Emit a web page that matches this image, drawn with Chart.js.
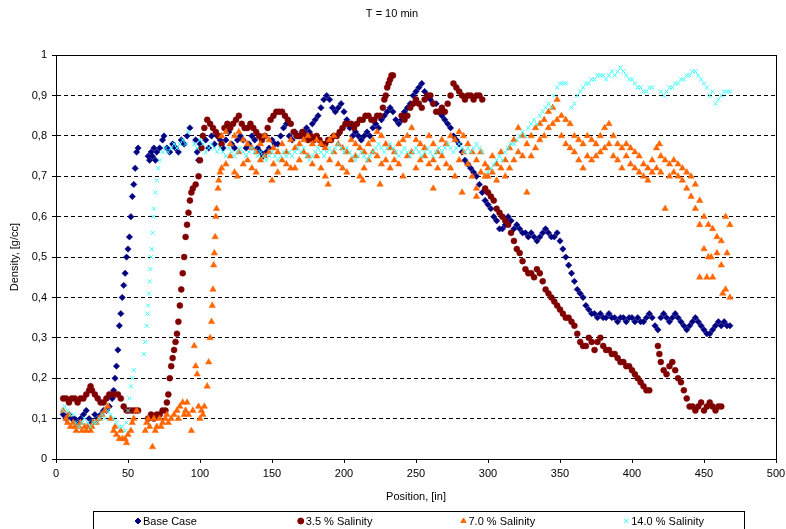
<!DOCTYPE html>
<html>
<head>
<meta charset="utf-8">
<script src="https://cdn.jsdelivr.net/npm/chart.js@4.4.1/dist/chart.umd.min.js"></script>
<style>
  html, body { margin: 0; padding: 0; background: #fff; }
  #wrap { width: 786px; height: 529px; }
</style>
</head>
<body>
<div id="wrap"><canvas id="densityChart" width="786" height="529"></canvas></div>
<script>
// series data: position [in] and density [g/cc]
const seriesNames = ['Base Case', '3.5 % Salinity', '7.0 % Salinity', '14.0 % Salinity'];

const baseX = [5,7,9,11,13,15,17,19,21,23,25,27,29,31,33,35,37,39,40,41,42,43,44,45,46,47,48,49,50,51,52,53,54,55,56,57,
  64,65,66,67,68,69,70,72,74,75,77,79,81,83,85,87,89,91,93,97,98,99,100,102,104,106,108,110,112,114,116,118,120,122,124,126,128,130,
  132,134,136,138,140,142,144,146,148,150,152,154,156,158,160,162,164,166,168,170,172,174,176,178,180,182,184,186,188,190,192,194,196,198,
  200,202,204,206,208,210,212,214,216,218,220,222,224,226,228,230,232,234,236,238,240,242,244,246,248,250,252,254,256,258,260,262,264,266,
  268,270,272,274,276,278,280,282,284,286,288,290,292,294,296,298,300,302,304,306,308,310,312,314,316,318,320,322,324,326,328,330,332,334,
  336,338,340,342,344,346,348,350,352,354,356,358,360,362,364,366,368,370,372,374,376,378,380,382,384,386,388,390,392,394,396,398,400,402,
  404,406,408,410,412,414,416,418,420,422,424,426,428,430,432,434,436,438,440,442,444,446,448,450,452,454,456,458,460,462,464,466,468];
const baseY = [0.11,0.10,0.11,0.10,0.10,0.09,0.10,0.11,0.12,0.10,0.09,0.11,0.10,0.11,0.12,0.12,0.13,0.15,0.17,0.20,0.23,0.27,0.33,0.36,0.40,0.43,0.46,0.50,0.52,0.55,0.60,0.65,0.68,0.72,0.76,0.77,
  0.75,0.74,0.76,0.75,0.77,0.74,0.76,0.77,0.79,0.80,0.77,0.76,0.78,0.77,0.76,0.79,0.78,0.80,0.82,0.79,0.76,0.74,0.78,0.80,0.79,0.77,0.80,0.78,0.80,0.79,0.77,0.79,0.81,0.78,0.77,0.79,0.80,0.79,
  0.77,0.78,0.80,0.79,0.77,0.76,0.75,0.76,0.77,0.79,0.78,0.78,0.80,0.82,0.83,0.80,0.79,0.81,0.80,0.80,0.81,0.82,0.81,0.83,0.84,0.85,0.87,0.89,0.90,0.89,0.87,0.86,0.87,0.88,
  0.86,0.84,0.82,0.80,0.81,0.80,0.79,0.80,0.81,0.80,0.82,0.83,0.82,0.84,0.85,0.86,0.87,0.86,0.84,0.83,0.84,0.86,0.87,0.88,0.90,0.91,0.92,0.93,0.91,0.90,0.89,0.88,0.88,0.86,
  0.85,0.84,0.83,0.82,0.80,0.79,0.78,0.76,0.74,0.73,0.72,0.71,0.70,0.68,0.66,0.64,0.63,0.62,0.60,0.59,0.57,0.57,0.58,0.60,0.59,0.57,0.58,0.57,0.56,0.56,0.55,0.56,0.55,0.54,
  0.55,0.56,0.57,0.56,0.55,0.55,0.56,0.54,0.52,0.50,0.48,0.46,0.44,0.42,0.41,0.40,0.38,0.37,0.36,0.36,0.35,0.36,0.35,0.35,0.36,0.35,0.35,0.34,0.35,0.35,0.34,0.35,0.35,0.34,
  0.35,0.34,0.34,0.35,0.36,0.35,0.33,0.32,0.35,0.36,0.35,0.34,0.35,0.36,0.35,0.34,0.33,0.32,0.33,0.34,0.35,0.34,0.33,0.32,0.31,0.31,0.32,0.33,0.34,0.33,0.34,0.33,0.33];

const sal35X = [5,7,9,11,13,15,17,19,21,23,24,25,27,29,31,33,35,37,39,41,43,45,47,49,51,53,55,57,
  64,66,68,70,72,74,76,77,78,79,80,81,82,83,84,85,86,87,88,89,90,91,92,93,94,95,97,99,100,101,102,103,105,107,109,111,113,115,117,119,121,123,125,127,129,131,
  133,135,137,139,141,143,145,147,149,151,153,155,157,159,161,163,165,167,169,171,173,175,177,179,181,183,185,187,189,191,193,195,197,199,201,203,205,207,209,211,
  213,215,217,219,221,223,225,227,228,229,230,231,232,233,234,240,242,244,246,248,250,252,254,256,258,260,262,264,266,268,270,272,274,276,278,280,282,284,286,288,290,292,294,296,
  298,300,302,304,306,308,310,312,314,316,318,320,322,324,326,328,330,332,334,336,338,340,342,344,346,348,350,352,354,356,358,360,362,364,366,368,370,372,374,376,378,380,
  382,384,386,388,390,392,394,396,398,400,402,404,406,408,410,412,
  418,419,420,422,424,426,428,430,432,434,436,438,440,442,444,446,448,450,452,454,456,458,460,462];
const sal35Y = [0.15,0.15,0.14,0.15,0.15,0.14,0.15,0.15,0.16,0.17,0.18,0.17,0.16,0.15,0.14,0.14,0.15,0.16,0.16,0.16,0.16,0.15,0.13,0.12,0.12,0.12,0.12,0.12,
  0.10,0.11,0.10,0.11,0.11,0.12,0.12,0.14,0.16,0.20,0.23,0.25,0.27,0.29,0.31,0.34,0.38,0.42,0.46,0.50,0.55,0.58,0.61,0.64,0.66,0.67,0.68,0.70,0.74,0.77,0.80,0.82,0.84,0.83,0.82,0.81,0.80,0.78,0.82,0.83,0.82,0.83,0.84,0.85,0.83,0.82,
  0.82,0.83,0.82,0.81,0.80,0.79,0.80,0.82,0.84,0.85,0.86,0.86,0.86,0.85,0.84,0.83,0.81,0.80,0.80,0.81,0.80,0.79,0.80,0.79,0.80,0.79,0.78,0.78,0.79,0.79,0.80,0.80,0.81,0.82,0.83,0.83,0.83,0.82,0.83,0.84,
  0.84,0.85,0.85,0.84,0.84,0.85,0.85,0.87,0.89,0.90,0.92,0.93,0.94,0.95,0.95,0.85,0.84,0.85,0.87,0.88,0.89,0.88,0.87,0.89,0.90,0.90,0.88,0.86,0.86,0.87,0.86,0.88,0.90,0.93,0.92,0.91,0.90,0.89,0.90,0.90,0.89,0.90,0.90,0.89,
  0.67,0.66,0.65,0.64,0.62,0.61,0.60,0.59,0.58,0.56,0.54,0.52,0.51,0.49,0.47,0.46,0.46,0.45,0.47,0.46,0.44,0.42,0.41,0.40,0.39,0.38,0.37,0.36,0.35,0.35,0.34,0.33,0.31,0.29,0.28,0.28,0.30,0.29,0.27,0.29,0.30,0.28,
  0.27,0.27,0.26,0.26,0.25,0.24,0.24,0.23,0.23,0.22,0.21,0.20,0.19,0.18,0.17,0.17,
  0.28,0.26,0.24,0.22,0.21,0.23,0.24,0.22,0.20,0.19,0.17,0.15,0.13,0.13,0.12,0.13,0.14,0.12,0.13,0.14,0.13,0.12,0.13,0.13];

const sal70X = [5,7,8,9,10,12,13,14,16,17,18,20,21,22,24,25,26,28,30,32,34,36,38,40,41,42,44,45,46,48,49,50,52,53,54,56,
  62,63,64,65,67,68,69,70,72,73,74,76,77,78,80,82,84,85,86,88,89,90,91,92,94,95,96,97,98,99,100,101,102,103,105,106,107,108,108.5,109,109.5,110,110.5,111,111.5,112.5,113,114,
  115,115,118,118,121,121,124,124,127,127,130,130,133,133,136,136,139,139,142,142,145,145,148,148,151,151,154,154,157,157,160,160,163,163,166,166,169,169,172,172,
  175,175,178,178,181,181,184,184,187,187,190,190,193,193,196,196,199,199,202,202,205,205,208,208,211,211,214,214,217,217,220,220,223,223,226,226,229,229,232,232,
  235,235,238,238,241,241,244,244,247,247,250,250,253,253,256,256,259,259,262,262,265,265,268,268,271,271,274,274,277,277,280,280,283,283,286,286,289,289,292,292,295,295,298,298,
  126,150,189,213,225,262,282,292,
  300,300,303,303,306,306,309,309,312,312,315,315,318,318,321,321,324,324,327,327,330,330,333,333,336,336,339,339,342,342,345,345,348,348,351,351,354,354,357,357,
  360,360,363,363,366,366,369,369,372,372,375,375,378,378,381,381,384,384,387,387,390,390,393,393,396,396,399,399,402,402,405,405,408,408,411,411,414,414,417,417,
  420,420,423,423,426,426,429,429,432,432,435,435,438,438,441,441,444,444,447,447,450,450,453,453,456,456,459,459,462,462,465,465,468,468,
  419,447,452,455,463,466];
const sal70Y = [0.12,0.10,0.09,0.11,0.08,0.09,0.08,0.07,0.08,0.09,0.07,0.08,0.07,0.08,0.07,0.08,0.09,0.09,0.10,0.11,0.12,0.13,0.10,0.07,0.08,0.06,0.05,0.07,0.05,0.05,0.04,0.06,0.07,0.09,0.10,0.12,
  0.07,0.09,0.10,0.08,0.03,0.10,0.07,0.08,0.10,0.08,0.09,0.10,0.11,0.09,0.10,0.11,0.12,0.10,0.13,0.14,0.11,0.12,0.14,0.11,0.07,0.12,0.28,0.23,0.21,0.13,0.10,0.12,0.11,0.13,0.18,0.24,0.30,0.34,0.38,0.42,0.48,0.51,0.55,0.60,0.62,0.67,0.69,0.71,
  0.80,0.72,0.81,0.73,0.78,0.75,0.80,0.71,0.81,0.76,0.79,0.73,0.78,0.74,0.77,0.72,0.76,0.71,0.78,0.74,0.80,0.75,0.79,0.76,0.77,0.73,0.76,0.71,0.78,0.74,0.76,0.73,0.79,0.72,0.77,0.72,0.78,0.74,0.79,0.76,
  0.80,0.75,0.78,0.73,0.79,0.75,0.78,0.72,0.77,0.70,0.79,0.74,0.80,0.76,0.78,0.73,0.77,0.72,0.76,0.71,0.79,0.74,0.78,0.75,0.77,0.70,0.76,0.72,0.78,0.74,0.79,0.76,0.81,0.75,0.80,0.73,0.78,0.74,0.77,0.72,
  0.76,0.74,0.78,0.73,0.79,0.70,0.80,0.75,0.82,0.76,0.79,0.72,0.78,0.74,0.77,0.75,0.80,0.73,0.78,0.74,0.76,0.72,0.79,0.75,0.78,0.73,0.80,0.72,0.79,0.70,0.81,0.74,0.80,0.76,0.78,0.73,0.76,0.70,0.74,0.67,0.76,0.71,0.73,0.70,
  0.70,0.69,0.68,0.69,0.68,0.67,0.66,0.65,
  0.72,0.70,0.75,0.71,0.73,0.69,0.76,0.72,0.74,0.70,0.77,0.72,0.79,0.74,0.82,0.76,0.80,0.75,0.78,0.66,0.80,0.75,0.82,0.77,0.83,0.79,0.84,0.80,0.86,0.82,0.87,0.83,0.89,0.84,0.85,0.80,0.84,0.78,0.83,0.77,
  0.80,0.76,0.79,0.74,0.78,0.72,0.80,0.75,0.79,0.74,0.78,0.75,0.80,0.76,0.82,0.77,0.83,0.78,0.80,0.75,0.78,0.74,0.77,0.72,0.78,0.75,0.77,0.73,0.76,0.72,0.75,0.71,0.73,0.70,0.72,0.69,0.74,0.71,0.77,0.72,
  0.75,0.71,0.74,0.62,0.73,0.70,0.74,0.71,0.73,0.70,0.72,0.69,0.71,0.67,0.70,0.65,0.68,0.62,0.64,0.58,0.60,0.52,0.58,0.50,0.57,0.45,0.55,0.51,0.54,0.48,0.60,0.42,0.58,0.40,
  0.78,0.45,0.45,0.50,0.41,0.51];

const sal140X = [5,6,8,10,12,14,16,18,20,22,24,26,28,30,32,34,36,38,40,42,44,46,48,49,50,51,52,53,54,
  61,62,63,63.5,64,64.5,65,65.5,66,66.5,67,67.5,68,69,70,71,72,74,76,78,80,82,84,86,88,90,92,
  96,98,100,102,104,106,108,110,112,114,116,118,120,122,124,126,128,130,132,134,136,138,140,142,144,146,148,150,152,154,156,158,160,162,164,166,168,170,172,174,176,178,
  180,182,184,186,188,190,192,194,196,198,200,202,204,206,208,210,212,214,216,218,220,222,224,226,228,230,232,234,236,238,240,242,244,246,248,250,252,254,256,258,260,262,
  264,266,268,270,272,274,276,278,280,282,284,286,288,290,292,294,296,
  300,302,304,306,308,310,312,314,316,318,320,322,324,326,328,330,332,334,336,338,340,342,344,346,348,350,352,354,
  358,360,362,364,366,368,370,372,374,376,378,380,382,384,386,388,390,392,394,396,398,400,402,404,406,408,410,412,414,
  420,422,424,426,428,430,432,434,436,438,440,442,444,446,448,450,452,454,456,458,460,462,464,466,468];
const sal140Y = [0.12,0.13,0.12,0.11,0.11,0.09,0.08,0.09,0.10,0.09,0.08,0.09,0.09,0.10,0.11,0.10,0.12,0.11,0.10,0.09,0.08,0.08,0.07,0.09,0.12,0.15,0.18,0.20,0.22,
  0.26,0.29,0.33,0.36,0.38,0.41,0.44,0.47,0.50,0.52,0.56,0.60,0.62,0.66,0.69,0.72,0.74,0.76,0.77,0.76,0.77,0.78,0.77,0.78,0.79,0.78,0.81,
  0.78,0.77,0.79,0.78,0.76,0.77,0.78,0.77,0.76,0.77,0.76,0.75,0.77,0.76,0.75,0.76,0.77,0.76,0.75,0.76,0.77,0.76,0.75,0.76,0.75,0.74,0.75,0.76,0.75,0.74,0.75,0.76,0.75,0.76,0.75,0.76,0.77,0.76,0.77,0.75,0.74,0.75,
  0.76,0.77,0.76,0.75,0.76,0.77,0.76,0.77,0.78,0.77,0.76,0.77,0.76,0.75,0.74,0.75,0.76,0.75,0.74,0.75,0.76,0.77,0.78,0.77,0.76,0.77,0.78,0.77,0.76,0.75,0.76,0.77,0.76,0.75,0.76,0.77,0.76,0.75,0.76,0.77,0.76,0.75,
  0.76,0.77,0.76,0.77,0.78,0.77,0.76,0.77,0.78,0.77,0.76,0.77,0.76,0.77,0.78,0.77,0.76,
  0.71,0.72,0.73,0.74,0.75,0.74,0.76,0.77,0.78,0.78,0.79,0.80,0.81,0.80,0.82,0.83,0.84,0.83,0.85,0.86,0.87,0.88,0.87,0.90,0.92,0.93,0.93,0.93,
  0.87,0.88,0.90,0.91,0.92,0.93,0.93,0.94,0.94,0.95,0.95,0.95,0.94,0.95,0.96,0.95,0.96,0.97,0.96,0.95,0.94,0.94,0.93,0.92,0.92,0.91,0.91,0.92,0.92,
  0.91,0.90,0.91,0.92,0.92,0.93,0.93,0.94,0.94,0.95,0.95,0.96,0.96,0.95,0.94,0.93,0.92,0.90,0.91,0.88,0.89,0.90,0.91,0.91,0.91];

const xTicks = [0, 50, 100, 150, 200, 250, 300, 350, 400, 450, 500];
const yTickLabels = ['0', '0,1', '0,2', '0,3', '0,4', '0,5', '0,6', '0,7', '0,8', '0,9', '1'];

const FONT = 'Arial, "Liberation Sans", sans-serif';

function toPoints(xs, ys) {
    return xs.map((x, i) => ({ x: x, y: ys[i] }));
}

// frame around the plot area plus the boxed legend at the bottom
const framePlugin = {
    id: 'frameAndLegend',
    afterDraw(chart) {
        const ctx = chart.ctx;
        const a = chart.chartArea;
        ctx.save();
        ctx.strokeStyle = '#000';
        ctx.lineWidth = 1;
        ctx.strokeRect(Math.round(a.left) + 0.5, Math.round(a.top) + 0.5,
            Math.round(a.right - a.left), Math.round(a.bottom - a.top));

        // legend box
        const boxLeft = 93, boxRight = 744, boxTop = 511;
        ctx.strokeRect(boxLeft + 0.5, boxTop + 0.5, boxRight - boxLeft, 40);
        const colW = (boxRight - boxLeft) / 4;
        ctx.font = '11px ' + FONT;
        ctx.textBaseline = 'middle';
        ctx.textAlign = 'left';
        chart.data.datasets.forEach((ds, i) => {
            const mx = boxLeft + 45 + i * colW;
            const my = 521;
            ctx.fillStyle = ds.backgroundColor;
            ctx.strokeStyle = ds.borderColor;
            Chart.helpers.drawPoint(ctx, {
                pointStyle: ds.pointStyle,
                radius: 3,
                rotation: 0,
                borderWidth: ds.pointStyle === 'crossRot' ? 1 : 0.5
            }, mx, my);
            ctx.fillStyle = '#000';
            ctx.fillText(ds.label, mx + 5, my + 1);
        });
        ctx.restore();
    }
};

const ctx = document.getElementById('densityChart').getContext('2d');
const chart = new Chart(ctx, {
    type: 'scatter',
    data: {
        datasets: [
            {
                label: seriesNames[0],
                data: toPoints(baseX, baseY),
                pointStyle: 'rectRot',
                pointRadius: 3.2,
                backgroundColor: '#000080',
                borderColor: '#000080',
                borderWidth: 0.5,
                order: 4
            },
            {
                label: seriesNames[1],
                data: toPoints(sal35X, sal35Y),
                pointStyle: 'circle',
                pointRadius: 3,
                backgroundColor: '#800000',
                borderColor: '#800000',
                borderWidth: 0.5,
                order: 3
            },
            {
                label: seriesNames[2],
                data: toPoints(sal70X, sal70Y),
                pointStyle: 'triangle',
                pointRadius: 3.7,
                backgroundColor: '#FF6600',
                borderColor: '#FF6600',
                borderWidth: 0.5,
                order: 2
            },
            {
                label: seriesNames[3],
                data: toPoints(sal140X, sal140Y),
                pointStyle: 'crossRot',
                pointRadius: 2.8,
                backgroundColor: '#33FFFF',
                borderColor: '#33FFFF',
                borderWidth: 1,
                order: 1
            }
        ]
    },
    options: {
        responsive: false,
        animation: false,
        devicePixelRatio: 1,
        layout: { padding: { left: 8, right: 10, top: 0, bottom: 25 } },
        plugins: {
            legend: { display: false },
            tooltip: { enabled: false },
            title: {
                display: true,
                text: 'T = 10 min',
                color: '#000',
                font: { family: FONT, size: 11, weight: 'normal' },
                padding: { top: 7, bottom: 35 }
            }
        },
        scales: {
            x: {
                type: 'linear',
                min: 0,
                max: 500,
                afterBuildTicks: s => { s.ticks = xTicks.map(v => ({ value: v })); },
                afterFit: s => { s.height = 45; s.paddingLeft = 0; s.paddingRight = 0; },
                ticks: {
                    color: '#000',
                    font: { family: FONT, size: 11 },
                    padding: 4,
                    maxRotation: 0,
                    autoSkip: false
                },
                grid: { drawOnChartArea: false, color: '#000', tickColor: '#000', tickLength: 4 },
                border: { color: '#000', width: 1 },
                title: {
                    display: true,
                    text: 'Position, [in]',
                    color: '#000',
                    font: { family: FONT, size: 11 },
                    padding: { top: 6, bottom: 0 }
                }
            },
            y: {
                min: 0,
                max: 1,
                ticks: {
                    stepSize: 0.1,
                    color: '#000',
                    font: { family: FONT, size: 11 },
                    padding: 5,
                    callback: (v, i) => yTickLabels[i]
                },
                afterFit: s => { s.width = 48; s.paddingTop = 0; s.paddingBottom = 0; },
                grid: { color: '#000', tickColor: '#000', tickLength: 4, tickBorderDash: [] },
                border: { color: '#000', width: 1, dash: [4, 3] },
                title: {
                    display: true,
                    text: 'Density, [g/cc]',
                    color: '#000',
                    font: { family: FONT, size: 11 },
                    padding: { top: 0, bottom: 2 }
                }
            }
        }
    },
    plugins: [framePlugin]
});
</script>
</body>
</html>
